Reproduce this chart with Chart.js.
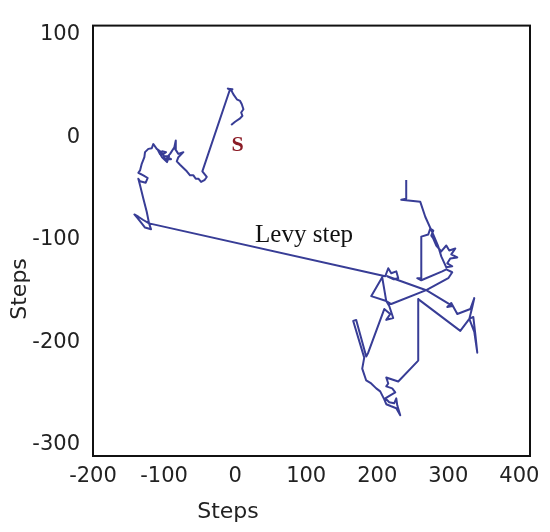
<!DOCTYPE html>
<html>
<head>
<meta charset="utf-8">
<script src="https://cdn.jsdelivr.net/npm/chart.js@4.4.0/dist/chart.umd.min.js"></script>
<style>
  html, body { margin: 0; padding: 0; background: #fff; }
  #wrap { width: 550px; height: 532px; }
</style>
</head>
<body>
<div id="wrap"><canvas id="walk" width="550" height="532"></canvas></div>
<script>
const xTicks = [-200, -100, 0, 100, 200, 300, 400];
const yTicks = [100, 0, -100, -200, -300];

// walk, in step units
const walkX = [
  -5.6, 0, 7.0, 10.3, 8.5, 11.7, 9.4, 7.0, 2.4, -2.4, -5.6, -10.3, -3.8, -8.0,
  -46.1, -39.9, -43.2, -47.9, -51.7, -55.4, -58.7, -63.4, -68.0, -72.8, -77.5, -82.1, -79.9,
  -72.8, -79.9, -84.5, -83.5, -85.5,
  -91.5, -95.8, -90.1, -98.6, -101.4, -97.2, -102.8, -105.6, -108.5, -102.8, -95.8, -93.0, -100.0, -104.2,
  -110.3, -115.1, -117.3, -122.1, -126.8, -127.7, -131.4, -133.8, -136.2, -129.2,
  -123.0, -125.8, -133.8, -136.2, -133.8, -129.2, -124.4, -121.1, -129.2, -136.2, -141.8,
  -137.0, -131.4, -126.8, -118.3, -121.1,
  211.3, 215.5, 219.7, 226.8, 229.6, 222.5, 214.1, 269.0, 305.6, 298.6, 304.2, 312.7,
  331.0, 336.6, 333.8, 329.6, 335.2, 338.0, 340.8, 336.6, 329.6, 316.9, 257.7, 257.7,
  229.6,
  221.1, 212.7, 215.5, 212.7, 221.1, 225.4, 218.3, 211.3, 216.9, 223.9, 226.8, 228.2,
  232.4, 226.8, 219.7, 212.7, 209.9, 204.2, 198.6, 191.5,
  184.5, 178.9, 181.7, 166.2, 170.4, 184.5, 187.3, 209.9, 218.3, 212.7, 222.5, 216.9, 212.7,
  191.5, 207.0, 212.7, 219.7, 269.0, 300.0, 305.6, 297.2, 291.5, 262.0, 256.3, 262.0,
  262.0, 271.8, 274.6, 278.9, 276.1, 278.9, 283.1, 290.1,
  297.2, 301.4, 309.9, 304.2, 312.7, 302.8, 298.6, 305.6, 297.2, 290.1,
  285.9, 278.9, 267.6, 260.6, 233.8, 240.8, 240.8
];
const walkY = [
  11.9, 15.2, 18.4, 21.0, 24.2, 27.4, 32.3, 35.5, 37.1, 41.9, 46.2, 47.5, 46.8, 45.2,
  -33.2, -38.7, -41.9, -43.6, -40.4, -40.4, -37.1, -37.1, -33.2, -30.0, -26.8, -23.5, -19.4,
  -14.5, -16.2, -11.3, -3.2, -9.7,
  -16.2, -19.4, -21.3, -21.0, -16.5, -14.5, -13.6, -16.5, -12.6, -19.4, -24.2, -18.4, -18.4, -14.5,
  -11.3, -6.5, -10.7, -11.3, -14.5, -19.4, -25.9, -32.3, -34.6, -37.1,
  -39.7, -44.3, -42.9, -40.4, -46.8, -59.8, -72.6, -84.0, -80.7, -77.5, -75.3,
  -79.1, -84.0, -88.1, -89.8, -84.0,
  -135.6, -127.8, -132.7, -130.8, -137.5, -138.5, -135.6, -149.2, -164.6, -165.6, -161.7, -172.4,
  -167.6, -156.9, -165.6, -177.2, -175.3, -191.8, -210.2, -189.8, -177.2, -188.9, -157.9, -217.9,
  -238.3,
  -236.3, -234.4, -240.2, -243.1, -245.0, -248.9, -251.8, -254.7, -258.6, -259.6, -254.7, -261.5,
  -271.2, -264.4, -262.5, -260.5, -255.7, -247.9, -245.0, -240.2,
  -237.3, -225.7, -215.0, -179.2, -178.2, -214.0, -210.2, -167.6, -172.4, -178.2, -176.3, -164.6, -159.8,
  -155.0, -136.6, -159.8, -162.7, -149.2, -137.5, -131.7, -128.8, -130.8, -139.5, -137.5, -137.5,
  -96.9, -94.9, -89.1, -91.0, -95.9, -98.8, -105.6, -111.4,
  -105.6, -110.4, -108.5, -114.3, -117.2, -118.2, -123.0, -125.9, -126.9, -116.2,
  -106.5, -94.9, -77.5, -63.0, -61.0, -60.0, -41.6
];

const tickFont = { family: 'DejaVu Sans', size: 21 };

// box round the plot area
const frame = {
  id: 'frame',
  afterDatasetsDraw(chart) {
    const { ctx, chartArea: a } = chart;
    ctx.save();
    ctx.strokeStyle = '#111';
    ctx.lineWidth = 2;
    ctx.strokeRect(a.left, a.top, a.right - a.left, a.bottom - a.top);
    ctx.restore();
  }
};

// labels inside the plot and the two axis titles
const notes = {
  id: 'notes',
  afterDraw(chart) {
    const { ctx, scales: { x, y } } = chart;
    ctx.save();
    ctx.textAlign = 'center';
    ctx.textBaseline = 'middle';

    ctx.fillStyle = '#8b1c26';
    ctx.font = 'bold 22px "Liberation Serif"';
    ctx.fillText('S', x.getPixelForValue(3.5), y.getPixelForValue(-8));

    ctx.fillStyle = '#111';
    ctx.font = '25px "Liberation Serif"';
    ctx.fillText('Levy step', x.getPixelForValue(97), y.getPixelForValue(-96));

    ctx.fillStyle = '#222';
    ctx.font = '22px "DejaVu Sans"';
    ctx.fillText('Steps', x.getPixelForValue(-10), 512);
    ctx.translate(20, y.getPixelForValue(-148));
    ctx.rotate(-Math.PI / 2);
    ctx.fillText('Steps', 0, 0);
    ctx.restore();
  }
};

new Chart(document.getElementById('walk'), {
  type: 'scatter',
  data: {
    datasets: [{
      data: walkX.map((v, i) => ({ x: v, y: walkY[i] })),
      showLine: true,
      borderColor: '#383d96',
      borderWidth: 2,
      borderJoinStyle: 'round',
      pointRadius: 0,
      pointHoverRadius: 0,
      fill: false,
      tension: 0
    }]
  },
  options: {
    responsive: false,
    animation: false,
    layout: { padding: { left: 0, right: 20, top: 23, bottom: 0 } },
    plugins: {
      legend: { display: false },
      tooltip: { enabled: false }
    },
    scales: {
      x: {
        type: 'linear',
        min: -200,
        max: 415,
        afterBuildTicks: s => { s.ticks = xTicks.map(v => ({ value: v })); },
        afterFit: s => { s.height = 76; },
        grid: { display: false, drawTicks: false },
        border: { display: false },
        ticks: { font: tickFont, color: '#222', padding: 8, maxRotation: 0, autoSkip: false }
      },
      y: {
        type: 'linear',
        min: -311,
        max: 109,
        afterBuildTicks: s => { s.ticks = yTicks.map(v => ({ value: v })); },
        afterFit: s => { s.width = 93; },
        grid: { display: false, drawTicks: false },
        border: { display: false },
        ticks: { font: tickFont, color: '#222', padding: 13, autoSkip: false }
      }
    }
  },
  plugins: [frame, notes]
});
</script>
</body>
</html>
